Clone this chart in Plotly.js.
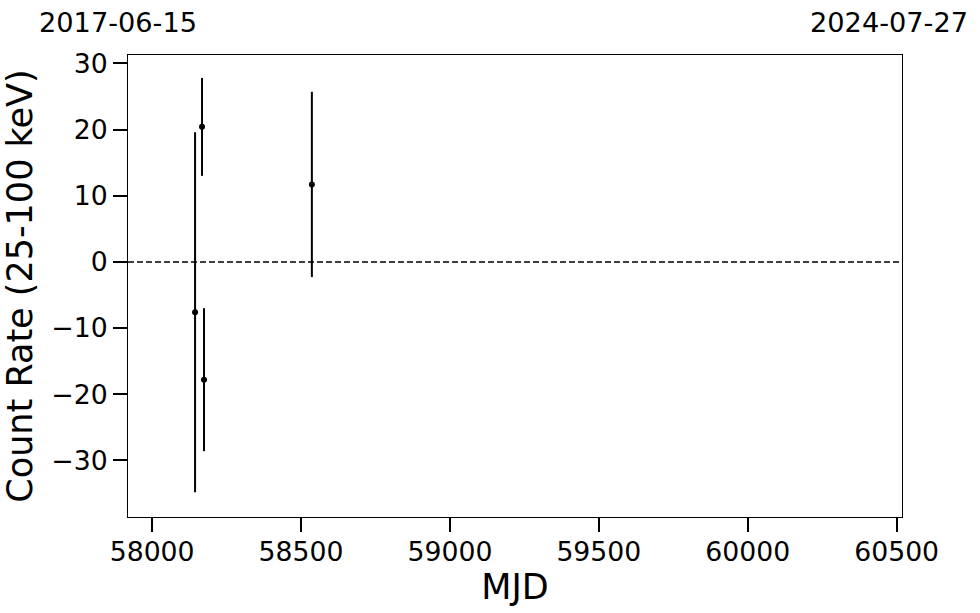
<!DOCTYPE html>
<html>
<head>
<meta charset="utf-8">
<script src="https://cdn.plot.ly/plotly-3.0.1.min.js"></script>
<style>html,body{margin:0;padding:0;background:#fff;}#chart{width:980px;height:613px;}</style>
</head>
<body>
<div id="chart"></div>
<script>
const mjd = [58144.2, 58167.6, 58174.3, 58536.4];
const rate = [-7.6, 20.4, -17.8, 11.7];
const rateErr = [27.2, 7.4, 10.8, 14.0];
const xRange = [57919, 60518];
const xTicks = [58000, 58500, 59000, 59500, 60000, 60500];
const yTicks = [-30, -20, -10, 0, 10, 20, 30];
const dateLabels = ["2017-06-15", "2024-07-27"];

const FONT = "DejaVu Sans, sans-serif";

const trace = {
  x: mjd, y: rate, type: "scatter", mode: "markers",
  marker: {color: "black", size: 6},
  error_y: {type: "data", array: rateErr, visible: true, color: "black", thickness: 2, width: 0},
  showlegend: false, hoverinfo: "skip"
};

const layout = {
  width: 980, height: 613,
  margin: {l: 128, r: 78, t: 55, b: 96, pad: 0},
  paper_bgcolor: "white", plot_bgcolor: "white",
  font: {family: FONT, color: "black"},
  xaxis: {
    range: xRange, tickvals: xTicks, ticktext: xTicks.map(String),
    showgrid: false, zeroline: false,
    showline: true, linecolor: "black", linewidth: 1, mirror: true,
    ticks: "outside", ticklen: 14, tickwidth: 2, tickcolor: "black",
    ticklabelstandoff: -3,
    tickfont: {family: FONT, size: 26.7, color: "black"},
    title: {text: "MJD", font: {family: FONT, size: 35, color: "black"}, standoff: 3}
  },
  yaxis: {
    range: [-38.55, 31.26], tickvals: yTicks,
    showgrid: false, zeroline: false,
    showline: true, linecolor: "black", linewidth: 1, mirror: true,
    ticks: "outside", ticklen: 14, tickwidth: 2, tickcolor: "black",
    tickfont: {family: FONT, size: 26.7, color: "black"},
    title: {text: "Count Rate (25-100 keV)", font: {family: FONT, size: 35, color: "black"}, standoff: 10}
  },
  shapes: [{
    type: "line", xref: "paper", x0: 0, x1: 1, yref: "y", y0: 0, y1: 0,
    line: {color: "black", width: 1.5, dash: "6px,3px"}
  }],
  annotations: [
    {text: dateLabels[0], xref: "paper", yref: "paper", x: -0.0129, y: 1.0714,
     xanchor: "center", yanchor: "middle", showarrow: false,
     font: {family: FONT, size: 27.2, color: "black"}},
    {text: dateLabels[1], xref: "paper", yref: "paper", x: 0.9832, y: 1.0714,
     xanchor: "center", yanchor: "middle", showarrow: false,
     font: {family: FONT, size: 27.2, color: "black"}}
  ]
};

Plotly.newPlot("chart", [trace], layout, {staticPlot: true, displayModeBar: false});
</script>
</body>
</html>
